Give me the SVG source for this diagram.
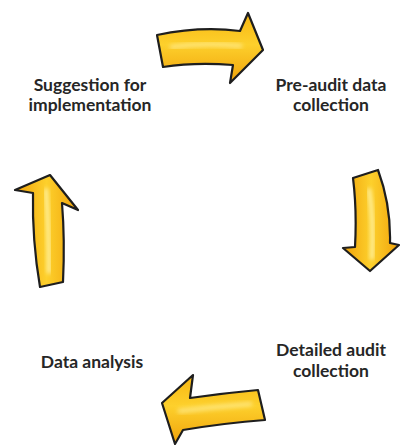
<svg xmlns="http://www.w3.org/2000/svg" width="400" height="445" viewBox="0 0 400 445">
  <style>
    .lbl { font-family: Lato, "Liberation Sans", Arial, sans-serif; font-weight: 700; font-size: 17.5px; fill: #262626; text-anchor: middle; }
    .arrow { stroke: #1e1e1e; stroke-width: 2.2; stroke-linejoin: round; }
    .shine { fill: none; stroke: #fff3a6; stroke-linecap: round; filter: url(#soft); }
  </style>
  <defs>
    <!-- band across a horizontal shaft -->
    <linearGradient id="gv" x1="0" y1="0" x2="0" y2="1">
      <stop offset="0" stop-color="#f7b611"/>
      <stop offset="0.45" stop-color="#fdd02c"/>
      <stop offset="1" stop-color="#f0a20a"/>
    </linearGradient>
    <!-- band across a vertical shaft -->
    <linearGradient id="gh" x1="0" y1="0" x2="1" y2="0">
      <stop offset="0" stop-color="#f0a20a"/>
      <stop offset="0.5" stop-color="#fdd02c"/>
      <stop offset="1" stop-color="#f0a20a"/>
    </linearGradient>
    <filter id="soft" x="-50%" y="-50%" width="200%" height="200%">
      <feGaussianBlur stdDeviation="2"/>
    </filter>
  </defs>

  <g id="connectors">
    <g id="arrow-top">
      <path class="arrow" fill="url(#gv)" d="M157,35 Q200,26 240,31 L248,13 L263,50 L230,83 L233,65 Q195,62 163,67 Z"/>
      <path class="shine" stroke-width="5" opacity="0.6" d="M172,47 Q205,42 240,46"/>
    </g>
    <g id="arrow-right">
      <path class="arrow" fill="url(#gh)" d="M353,178 L378,170 Q391,205 390,243 L399,245 L370,271 L343,248 L355,247 Q357,210 353,178 Z"/>
      <path class="shine" stroke-width="4" d="M369,190 Q374,220 372,258"/>
    </g>
    <g id="arrow-bottom">
      <path class="arrow" fill="url(#gv)" d="M258,390 Q225,393 190,398 L193,375 L162,403 L175,444 L183,430 Q225,423 265,420 Z"/>
      <path class="shine" stroke-width="5" opacity="0.6" d="M250,404 Q215,407 180,411"/>
    </g>
    <g id="arrow-left">
      <path class="arrow" fill="url(#gh)" d="M40,287 L63,282 Q65,240 62,203 L78,210 L50,175 L15,190 L33,193 Q32,240 40,287 Z"/>
      <path class="shine" stroke-width="4" d="M49,272 Q49,230 46,190"/>
    </g>
  </g>

  <g id="node-suggestion">
    <text class="lbl" x="90" y="91">Suggestion for</text>
    <text class="lbl" x="90" y="111">implementation</text>
  </g>
  <g id="node-preaudit">
    <text class="lbl" x="331" y="91">Pre-audit data</text>
    <text class="lbl" x="331" y="111">collection</text>
  </g>
  <g id="node-detailed">
    <text class="lbl" x="331" y="356">Detailed audit</text>
    <text class="lbl" x="331" y="377">collection</text>
  </g>
  <g id="node-analysis">
    <text class="lbl" x="92" y="368">Data analysis</text>
  </g>
</svg>
